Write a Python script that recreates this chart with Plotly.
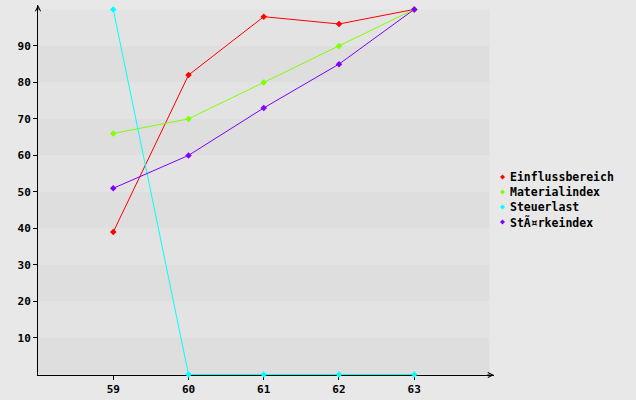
import plotly.graph_objects as go

categories = [59, 60, 61, 62, 63]
einfluss = [39, 82, 98, 96, 100]
material = [66, 70, 80, 90, 100]
steuer = [100, 0, 0, 0, 0]
staerke = [51, 60, 73, 85, 100]
names = ["Einflussbereich", "Materialindex", "Steuerlast", "StÃ¤rkeindex"]
colors = ["#ff0000", "#80ff00", "#00ffff", "#8000ff"]
series = [einfluss, material, steuer, staerke]
ytickvals = [10, 20, 30, 40, 50, 60, 70, 80, 90]

font = dict(family="DejaVu Sans Mono", size=11, color="black", weight="bold")
legfont = dict(family="DejaVu Sans Mono", size=11.5, color="black", weight="bold")

W, H = 636, 400
ML, MR, MT, MB = 38, 142, 5, 25
PW, PH = W - ML - MR, H - MT - MB


def px_x(p):
    return (p - ML) / PW


def px_y(p):
    return (H - MB - p) / PH


fig = go.Figure()
for name, col, vals in zip(names, colors, series):
    fig.add_trace(go.Scatter(x=categories, y=vals, mode="lines+markers", name=name,
                             line=dict(color=col, width=1),
                             marker=dict(symbol="diamond", size=5, color=col),
                             cliponaxis=False, showlegend=False))

shapes = []
for k in range(10):
    shapes.append(dict(type="rect", xref="x", yref="y", x0=58, x1=64, y0=k * 10, y1=k * 10 + 10,
                       fillcolor="#dedede" if k % 2 == 0 else "#e3e3e3", line=dict(width=0), layer="below"))

# manual legend
annotations = []
for i, (name, col) in enumerate(zip(names, colors)):
    yy = px_y(177 + 15 * i)
    shapes.append(dict(type="path", xref="paper", yref="paper", xsizemode="pixel", ysizemode="pixel",
                       xanchor=px_x(502.5), yanchor=yy, path="M-2.5,0 L0,-2.5 L2.5,0 L0,2.5 Z",
                       fillcolor=col, line=dict(width=0)))
    annotations.append(dict(x=px_x(508), y=yy, xref="paper", yref="paper", text=name, showarrow=False,
                            xanchor="left", yanchor="middle", font=legfont))

fig.update_layout(
    width=W, height=H,
    margin=dict(l=ML, r=MR, t=MT, b=MB),
    paper_bgcolor="#e8e8e8", plot_bgcolor="#e8e8e8",
    shapes=shapes, annotations=annotations,
    font=font, showlegend=False,
    xaxis=dict(range=[58, 64.06], tickvals=categories, showgrid=False, zeroline=False,
               showline=True, linecolor="black", linewidth=1, ticks="outside", ticklen=4,
               tickcolor="black", tickfont=font, layer="below traces", automargin=False),
    yaxis=dict(range=[-0.15, 101.2], tickvals=ytickvals, showgrid=False, zeroline=False,
               showline=True, linecolor="black", linewidth=1, ticks="outside", ticklen=4,
               tickcolor="black", tickfont=font, layer="below traces", automargin=False),
)
fig.add_annotation(x=64.06, y=-0.15, ax=63.95, ay=-0.15, axref="x", ayref="y", xref="x", yref="y",
                   showarrow=True, arrowhead=5, arrowsize=1, arrowwidth=1, arrowcolor="black", text="")
fig.add_annotation(x=58, y=101.2, ax=58, ay=99.5, axref="x", ayref="y", xref="x", yref="y",
                   showarrow=True, arrowhead=5, arrowsize=1, arrowwidth=1, arrowcolor="black", text="")

fig.write_html("out.html", config={"displayModeBar": False},
               post_script="document.body.style.margin='0';document.body.style.overflow='hidden';")
